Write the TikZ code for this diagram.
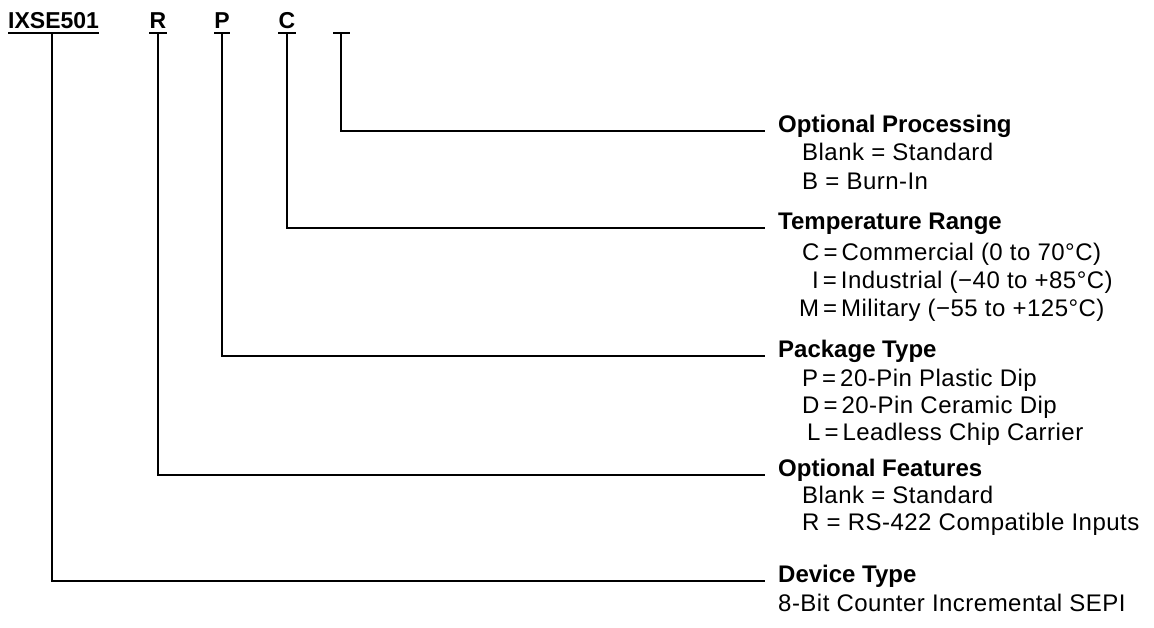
\documentclass[tikz,border=0pt]{standalone}
\usepackage{fontspec}
\setmainfont{Liberation Sans}

\begin{document}
\begin{tikzpicture}[x=1pt,y=-1pt,
  code/.style={anchor=base,inner xsep=0pt,inner ysep=5pt,font=\fontsize{23}{27.6}\selectfont\bfseries},
  head/.style={anchor=base west,inner sep=0pt,font=\fontsize{24}{28.8}\selectfont\bfseries},
  item/.style={anchor=base west,inner sep=0pt,font=\fontsize{24}{28.8}\selectfont\addfontfeature{LetterSpace=2}},
  lead/.style={line width=2pt}]
\path[use as bounding box] (0,0) rectangle (1154.0,627.0);
% part number fields
\node[code,anchor=base west] (cDev) at (8,28) {IXSE501};
\node[code] (cFeat) at (158,28) {R};
\node[code] (cPack) at (222,28) {P};
\node[code] (cTemp) at (287,28) {C};
\coordinate (cProcL) at (333,33);
\coordinate (cProcR) at (350,33);
\coordinate (cProc) at (341,33);
\draw[lead] (cDev.south west) -- (cDev.south east);
\draw[lead] (cFeat.south west) -- (cFeat.south east);
\draw[lead] (cPack.south west) -- (cPack.south east);
\draw[lead] (cTemp.south west) -- (cTemp.south east);
\draw[lead] (cProcL) -- (cProcR);
% field descriptions
\node[head] (hProc) at (778,132) {Optional Processing};
\node[item] (pBlank) at (802,160) {Blank = Standard};
\node[item] (pBurn) at (802,189) {B = Burn-In};
\node[head] (hTemp) at (778,229) {Temperature Range};
\node[item] (tCom) at (802,260) {C\,=\,Commercial (0 to 70°C)};
\node[item] (tInd) at (812,288) {I\,=\,Industrial (−40 to +85°C)};
\node[item] (tMil) at (799,316) {M\,=\,Military (−55 to +125°C)};
\node[head] (hPack) at (778,357) {Package Type};
\node[item] (kPla) at (802,386) {P\,=\,20-Pin Plastic Dip};
\node[item] (kCer) at (802,413) {D\,=\,20-Pin Ceramic Dip};
\node[item] (kLcc) at (807,440) {L\,=\,Leadless Chip Carrier};
\node[head] (hFeat) at (778,476) {Optional Features};
\node[item] (fBlank) at (802,503) {Blank = Standard};
\node[item] (fRs) at (802,530) {R = RS-422 Compatible Inputs};
\node[head] (hDev) at (778,582) {Device Type};
\node[item] (dSepi) at (778,611) {8-Bit Counter Incremental SEPI};
% leaders
\draw[lead] (cProc) |- ([xshift=-13pt,yshift=1pt]hProc.base west);
\draw[lead] (cTemp.south) |- ([xshift=-13pt,yshift=1pt]hTemp.base west);
\draw[lead] (cPack.south) |- ([xshift=-13pt,yshift=1pt]hPack.base west);
\draw[lead] (cFeat.south) |- ([xshift=-13pt,yshift=1pt]hFeat.base west);
\draw[lead] ([xshift=-2pt]cDev.south) |- ([xshift=-13pt,yshift=1pt]hDev.base west);
\end{tikzpicture}
\end{document}
